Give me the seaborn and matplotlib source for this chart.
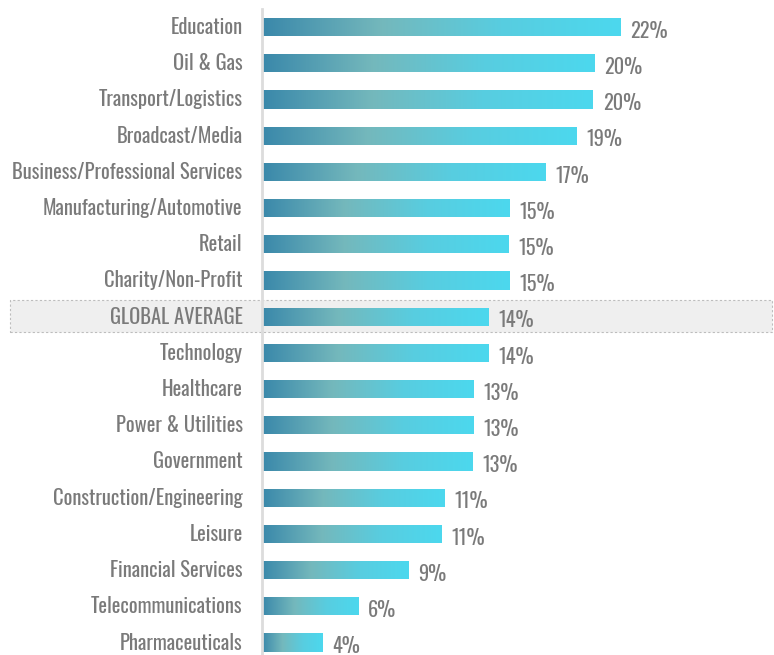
import numpy as np
import pandas as pd
import matplotlib
matplotlib.use("Agg")
import matplotlib.pyplot as plt
from matplotlib.colors import LinearSegmentedColormap
from matplotlib.patches import Rectangle
import seaborn as sns

sectors = [
    "Education", "Oil & Gas", "Transport/Logistics", "Broadcast/Media",
    "Business/Professional Services", "Manufacturing/Automotive", "Retail",
    "Charity/Non-Profit", "GLOBAL AVERAGE", "Technology", "Healthcare",
    "Power & Utilities", "Government", "Construction/Engineering", "Leisure",
    "Financial Services", "Telecommunications", "Pharmaceuticals",
]
shares = [22.0, 20.4, 20.3, 19.3, 17.4, 15.2, 15.1, 15.2, 13.9, 13.9,
          13.0, 13.0, 12.9, 11.2, 11.0, 9.0, 5.9, 3.7]

df = pd.DataFrame({"sector": sectors, "share": shares})

sns.set_theme(style="white")
plt.rcParams["font.family"] = ["Oswald", "Roboto Condensed", "DejaVu Sans"]
plt.rcParams["font.weight"] = 400

W, H = 774, 655
fig = plt.figure(figsize=(W / 100, H / 100), dpi=100)
ax = fig.add_axes([262 / W, 0, 510 / W, 646 / H])
ax.patch.set_alpha(0)

sns.barplot(data=df, x="share", y="sector", ax=ax, width=0.5,
            color="#4cc8e0", orient="h")

cmap = LinearSegmentedColormap.from_list(
    "bar", ["#3a88aa", "#74b8bc", "#58cde0", "#4cd8ee"])
grad = np.linspace(0, 1, 256).reshape(1, -1)

text_color = "#7a7a7a"
for patch, val in zip(ax.patches, shares):
    x0, y0 = patch.get_x(), patch.get_y()
    w, h = patch.get_width(), patch.get_height()
    patch.set_facecolor("none")
    patch.set_edgecolor("none")
    im = ax.imshow(grad, cmap=cmap, aspect="auto",
                   extent=[x0, x0 + w, y0 + h, y0], zorder=2)
    im.set_clip_path(patch)
    ax.text(x0 + w + 0.6, y0 + h / 2 + 0.1, f"{round(val):d}%",
            ha="left", va="center", fontsize=14.6, color=text_color)

ax.set_xlim(0, 510 / 16.3)
ax.set_ylim(-0.5 + 646 / 36.2, -0.5)

ax.set_xlabel("")
ax.set_ylabel("")
ax.set_xticks([])
ax.tick_params(axis="y", length=0, pad=14, labelsize=14.8, labelcolor=text_color)
for lbl in ax.get_yticklabels():
    lbl.set_va("center")
for s in ["top", "right", "bottom"]:
    ax.spines[s].set_visible(False)
ax.spines["left"].set_color("#dcdcdc")
ax.spines["left"].set_linewidth(2.0)

# highlighted band behind the global average row
band = Rectangle((10 / W, (H - 332) / H), (772 - 10) / W, 32 / H,
                 transform=fig.transFigure, facecolor="#efefef",
                 edgecolor="#bdbdbd", linestyle=(0, (2, 2)), linewidth=0.8,
                 zorder=-1)
fig.patches.append(band)

fig.savefig("out.png", dpi=100)
